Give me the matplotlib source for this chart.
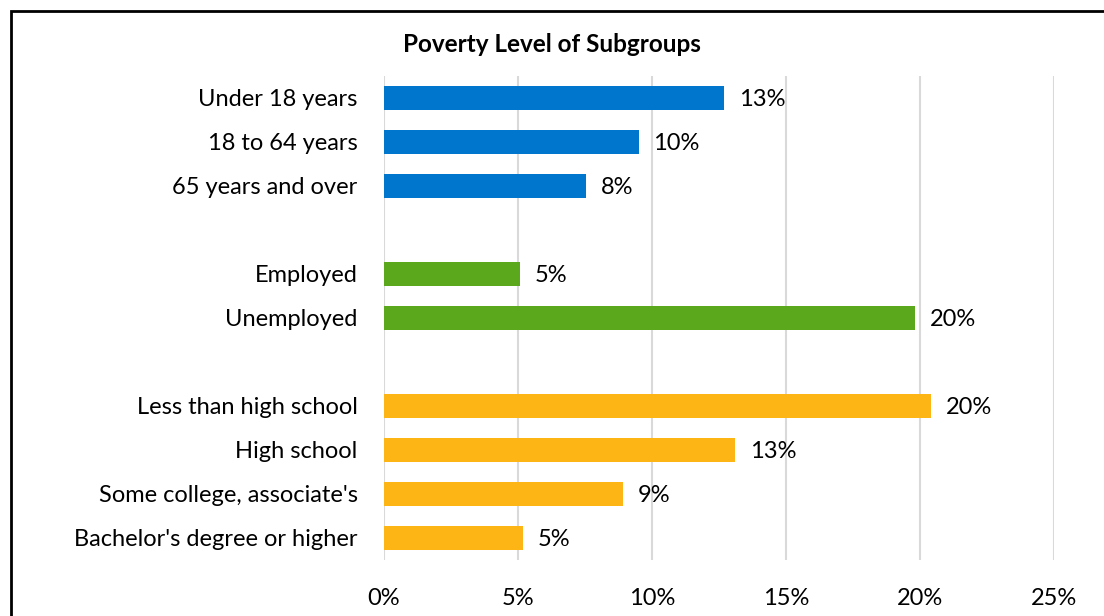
import matplotlib.pyplot as plt
from matplotlib.patches import Rectangle

# Poverty rate by subgroup (percent)
age_groups = ["Under 18 years", "18 to 64 years", "65 years and over"]
age_values = [12.7, 9.5, 7.55]

work_groups = ["Employed", "Unemployed"]
work_values = [5.07, 19.8]

edu_groups = ["Less than high school", "High school", "Some college, associate's",
              "Bachelor's degree or higher"]
edu_values = [20.4, 13.1, 8.92, 5.2]

x_ticks = [0, 5, 10, 15, 20, 25]

blue = "#0077CC"
green = "#5CA81C"
gold = "#FDB515"

plt.rcParams['font.family'] = ['Lato', 'DejaVu Sans']
fs = 17

fig = plt.figure(figsize=(11.04, 6.16), dpi=100)
ax = fig.add_axes([384 / 1104, 1 - 560 / 616, (1054 - 384) / 1104, (560 - 76) / 616])

# stack the three groups with one empty slot between them
labels, values, colors, pos = [], [], [], []
slot = 0
for names, vals, col in [(age_groups, age_values, blue),
                         (work_groups, work_values, green),
                         (edu_groups, edu_values, gold)]:
    for n, v in zip(names, vals):
        labels.append(n)
        values.append(v)
        colors.append(col)
        pos.append(slot)
        slot += 1
    slot += 1

ax.barh(pos, values, height=0.55, color=colors, zorder=3)
for p, v in zip(pos, values):
    ax.text(v + 0.55, p, f"{v:.0f}%", va="center_baseline", ha="left", fontsize=fs, color="black")

ax.set_yticks(pos)
ax.set_yticklabels(labels, fontsize=fs)
ax.set_ylim(slot - 1.5, -0.5)
ax.set_xlim(0, 25)
ax.set_xticks(x_ticks)
ax.set_xticklabels([f"{t}%" for t in x_ticks], fontsize=fs)
ax.tick_params(axis="both", length=0)
ax.tick_params(axis="x", pad=20)
ax.tick_params(axis="y", pad=19)
ax.grid(axis="x", color="#D9D9D9", linewidth=1.5, zorder=0)
for s in ax.spines.values():
    s.set_visible(False)

fig.text(0.5, 1 - 44 / 616, "Poverty Level of Subgroups", ha="center", va="center",
         fontsize=17.5, fontweight="bold")

# outer frame running off the right and bottom edges
fig.patches.append(Rectangle((11 / 1104, -0.1), 1.2, 1.09 - 5 / 616, transform=fig.transFigure,
                             fill=False, edgecolor="black", linewidth=2))

fig.savefig("out.png", dpi=100)
